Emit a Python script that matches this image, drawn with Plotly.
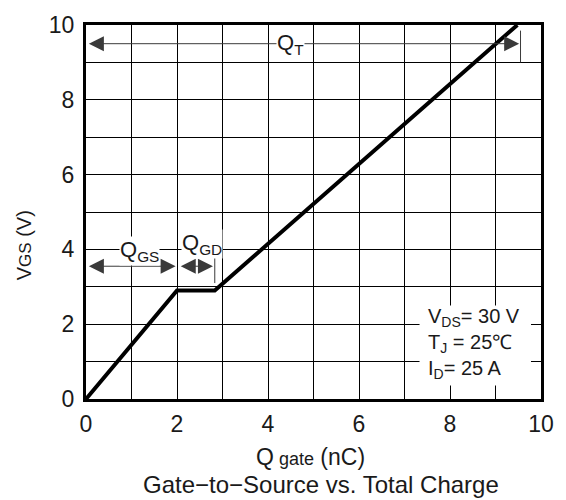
import plotly.graph_objects as go

# Gate charge curve: Q_gate (nC) vs V_GS (V)
q_gate = [0.0, 2.0, 2.83, 9.48]
v_gs = [0.0, 2.9, 2.9, 10.0]

x_ticks = [0, 2, 4, 6, 8, 10]
y_ticks = [0, 2, 4, 6, 8, 10]

conditions = ["V<sub>DS</sub>= 30 V", "T<sub>J</sub> = 25℃", "I<sub>D</sub>= 25 A"]

FONT = "Arial, Liberation Sans, sans-serif"
ARROW = "#3a3a3a"
TXT = "#1a1a1a"

fig = go.Figure()
fig.add_trace(go.Scatter(x=q_gate, y=v_gs, mode="lines",
                         line=dict(color="black", width=4),
                         hoverinfo="skip", showlegend=False))

annotations = []
shapes = []

def double_arrow(x0, x1, y):
    annotations.append(dict(x=x1, y=y, ax=x0, ay=y, xref="x", yref="y",
                            axref="x", ayref="y", text="", showarrow=True,
                            arrowside="end+start", arrowhead=2, arrowsize=3,
                            arrowwidth=1, arrowcolor=ARROW,
                            standoff=0, startstandoff=0))

# Q_T span
double_arrow(0.03, 9.52, 9.5)
shapes.append(dict(type="line", xref="x", yref="y", x0=9.55, x1=9.55, y0=9.0, y1=9.85,
                   line=dict(color=ARROW, width=1)))
annotations.append(dict(x=4.5, y=9.5, xref="x", yref="y", text="Q<sub>T</sub>",
                        showarrow=False, bgcolor="white", borderpad=0,
                        font=dict(family=FONT, size=22, color=TXT)))

# Q_GS and Q_GD spans
double_arrow(0.03, 1.97, 3.55)
double_arrow(2.05, 2.79, 3.55)
shapes.append(dict(type="line", xref="x", yref="y", x0=2.83, x1=2.83, y0=3.1, y1=4.0,
                   line=dict(color=ARROW, width=1)))
annotations.append(dict(x=1.18, y=3.97, xref="x", yref="y", text="Q<sub>GS</sub>",
                        showarrow=False, bgcolor="white", borderpad=0,
                        font=dict(family=FONT, size=22, color=TXT)))
annotations.append(dict(x=2.56, y=4.15, xref="x", yref="y", text="Q<sub>GD</sub>",
                        showarrow=False, bgcolor="white", borderpad=0,
                        font=dict(family=FONT, size=22, color=TXT)))

# Test conditions box
shapes.append(dict(type="rect", xref="x", yref="y", x0=7.33, x1=9.78, y0=0.36, y1=2.5,
                   fillcolor="white", line=dict(width=0), layer="between"))
for txt, yy in zip(conditions, [2.19, 1.49, 0.8]):
    annotations.append(dict(x=7.47, y=yy, xref="x", yref="y", text=txt,
                            xanchor="left", yanchor="middle", showarrow=False,
                            font=dict(family=FONT, size=20, color=TXT)))

# Axis titles and caption
annotations.append(dict(x=(311 - 86) / 456, y=(399 - 459) / 384, xref="paper", yref="paper",
                        xanchor="center", yanchor="middle",
                        text="Q<span style='font-size:18px'> gate</span> (nC)",
                        showarrow=False, font=dict(family=FONT, size=23, color=TXT)))
annotations.append(dict(x=(322 - 86) / 456, y=(399 - 487) / 384, xref="paper", yref="paper",
                        xanchor="center", yanchor="middle",
                        text="Gate−to−Source vs. Total Charge",
                        showarrow=False, font=dict(family=FONT, size=24, color=TXT)))
annotations.append(dict(x=(24 - 86) / 456, y=(399 - 241) / 384, xref="paper", yref="paper",
                        xanchor="center", yanchor="middle",
                        text="V<span style='font-size:17px'>GS</span> (V)", textangle=-90,
                        showarrow=False, font=dict(family=FONT, size=20, color=TXT)))

axis_common = dict(showline=True, linecolor="black", linewidth=3, mirror=True,
                   showgrid=True, gridcolor="black", gridwidth=1, zeroline=False,
                   ticks="", tickfont=dict(family=FONT, size=23, color=TXT))

fig.update_layout(
    width=566, height=500,
    margin=dict(l=86, r=24, t=15, b=101),
    paper_bgcolor="white", plot_bgcolor="white",
    xaxis=dict(range=[0, 10], tickmode="array", tickvals=x_ticks,
               ticktext=[str(v) for v in x_ticks], ticklabelstandoff=2, **axis_common),
    yaxis=dict(range=[0, 10], tickmode="array", tickvals=y_ticks,
               ticktext=[str(v) for v in y_ticks], ticklabelstandoff=4, **axis_common),
    annotations=annotations, shapes=shapes,
)
# gridlines every 1 unit while labels every 2
fig.update_xaxes(minor=dict(dtick=1, showgrid=True, gridcolor="black", gridwidth=1))
fig.update_yaxes(minor=dict(dtick=1, showgrid=True, gridcolor="black", gridwidth=1))

fig.write_html("out.html")
